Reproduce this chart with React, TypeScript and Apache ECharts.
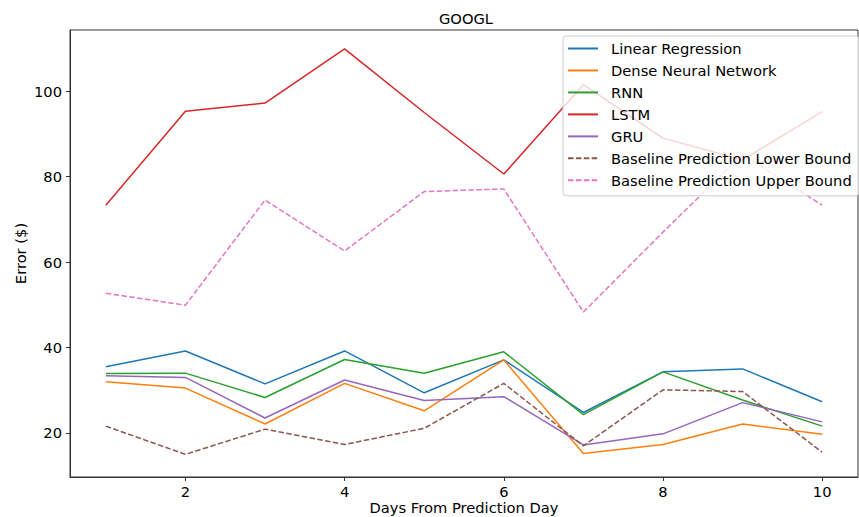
import React, { useEffect, useRef } from "react";
import * as echarts from "echarts";

const days = [1, 2, 3, 4, 5, 6, 7, 8, 9, 10];
const linearRegression = [35.5, 39.2, 31.5, 39.2, 29.4, 37.1, 24.8, 34.3, 35.0, 27.3];
const denseNN = [32.0, 30.5, 22.1, 31.6, 25.2, 37.1, 15.2, 17.3, 22.1, 19.7];
const rnn = [33.9, 34.0, 28.3, 37.2, 34.0, 39.0, 24.3, 34.3, 27.7, 21.6];
const lstm = [73.3, 95.3, 97.2, 109.9, 95.0, 80.6, 101.5, 89.0, 83.9, 95.2];
const gru = [33.4, 33.0, 23.5, 32.4, 27.6, 28.5, 17.2, 19.8, 27.1, 22.6];
const lowerBound = [21.6, 15.0, 20.9, 17.3, 21.1, 31.6, 17.0, 30.1, 29.7, 15.5];
const upperBound = [52.7, 49.9, 74.5, 62.6, 76.5, 77.1, 48.3, 67.0, 85.2, 73.3];

const xTicks = [2, 4, 6, 8, 10];
const yTicks = [20, 40, 60, 80, 100];

const seriesDefs = [
  { name: "Linear Regression", values: linearRegression, color: "#1f77b4", dashed: false },
  { name: "Dense Neural Network", values: denseNN, color: "#ff7f0e", dashed: false },
  { name: "RNN", values: rnn, color: "#2ca02c", dashed: false },
  { name: "LSTM", values: lstm, color: "#d62728", dashed: false },
  { name: "GRU", values: gru, color: "#9467bd", dashed: false },
  { name: "Baseline Prediction Lower Bound", values: lowerBound, color: "#8c564b", dashed: true },
  { name: "Baseline Prediction Upper Bound", values: upperBound, color: "#e377c2", dashed: true },
];

const FONT = "DejaVu Sans";
const FS = 14.7;

export default function App() {
  const ref = useRef<HTMLDivElement>(null);
  useEffect(() => {
    document.body.style.margin = "0";
    if (!ref.current) return;
    const chart = echarts.init(ref.current, undefined, { renderer: "svg" });
    const axisColor = "#333";
    chart.setOption({
      animation: false,
      backgroundColor: "#fff",
      textStyle: { fontFamily: FONT },
      grid: {
        left: 70,
        right: 1,
        top: 30,
        bottom: 40,
        containLabel: false,
        outerBoundsMode: "none",
        show: true,
        borderColor: axisColor,
        borderWidth: 1,
        backgroundColor: "transparent",
      },
      graphic: [
        {
          type: "text",
          x: 466,
          y: 18,
          style: {
            text: "GOOGL",
            align: "center",
            verticalAlign: "middle",
            fontSize: FS,
            fontFamily: FONT,
            fill: "#000",
          },
        },
      ],
      xAxis: {
        type: "value",
        min: 0.55,
        max: 10.45,
        name: "Days From Prediction Day",
        nameLocation: "middle",
        nameGap: 22,
        nameMoveOverlap: false,
        nameTextStyle: { fontSize: FS, color: "#000", fontFamily: FONT, lineHeight: 16 },
        axisLine: { show: true, onZero: false, lineStyle: { color: axisColor, width: 1 } },
        axisTick: { show: true, length: 4, customValues: xTicks, lineStyle: { color: axisColor } },
        axisLabel: { customValues: xTicks, fontSize: FS, color: "#000", margin: 7, fontFamily: FONT },
        splitLine: { show: false },
      },
      yAxis: {
        type: "value",
        min: 9.7,
        max: 114.3,
        name: "Error ($)",
        nameLocation: "middle",
        nameRotate: 90,
        nameGap: 42,
        nameMoveOverlap: false,
        nameTextStyle: { fontSize: FS, color: "#000", fontFamily: FONT },
        axisLine: { show: true, lineStyle: { color: axisColor, width: 1 } },
        axisTick: { show: true, length: 4, customValues: yTicks, lineStyle: { color: axisColor } },
        axisLabel: { customValues: yTicks, fontSize: FS, color: "#000", margin: 8, fontFamily: FONT },
        splitLine: { show: false },
      },
      legend: {
        orient: "vertical",
        left: 563,
        top: 36,
        padding: [5, 7, 8, 4],
        itemWidth: 30,
        itemHeight: FS,
        itemGap: 21.67 - FS,
        backgroundColor: "rgba(255,255,255,0.8)",
        borderColor: "#cccccc",
        borderWidth: 1,
        borderRadius: 3,
        itemStyle: { opacity: 0, borderWidth: 0 },
        textStyle: { fontSize: FS, color: "#000", fontFamily: FONT, padding: [0, 0, 0, 8] },
        data: seriesDefs.map((s) => s.name),
      },
      series: seriesDefs.map((s) => ({
        name: s.name,
        type: "line",
        symbol: "none",
        showSymbol: false,
        data: days.map((d, i) => [d, s.values[i]]),
        itemStyle: { color: s.color },
        lineStyle: {
          color: s.color,
          width: 1.5,
          type: s.dashed ? [5.5, 2.4] : "solid",
        },
      })),
    });
    return () => chart.dispose();
  }, []);
  return <div ref={ref} style={{ width: 859, height: 517 }} />;
}
